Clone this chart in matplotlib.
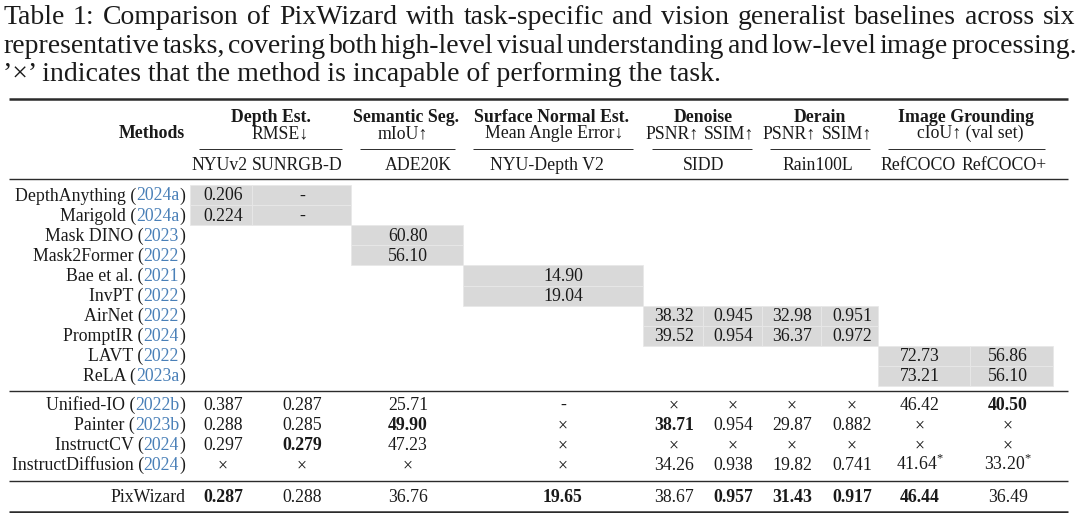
import matplotlib
matplotlib.use("Agg")
import matplotlib.pyplot as plt
from matplotlib.patches import Rectangle

plt.rcParams['font.family'] = ['Liberation Serif', 'DejaVu Serif']
plt.rcParams['mathtext.fontset'] = 'custom'
plt.rcParams['mathtext.rm'] = 'Liberation Serif'

# ---- table content ----
caption = [
    "Table 1: Comparison of PixWizard with task-specific and vision generalist baselines across six",
    "representative tasks, covering both high-level visual understanding and low-level image processing.",
    "’×’ indicates that the method is incapable of performing the task.",
]

groups = ["Depth Est.", "Semantic Seg.", "Surface Normal Est.", "Denoise", "Derain", "Image Grounding"]
metrics = ["RMSE↓", "mIoU↑", "Mean Angle Error↓", "PSNR↑", "SSIM↑", "PSNR↑", "SSIM↑", "cIoU↑ (val set)"]
datasets = ["NYUv2", "SUNRGB-D", "ADE20K", "NYU-Depth V2", "SIDD", "Rain100L", "RefCOCO", "RefCOCO+"]

specific_names = ["DepthAnything", "Marigold", "Mask DINO", "Mask2Former", "Bae et al.",
                  "InvPT", "AirNet", "PromptIR", "LAVT", "ReLA"]
specific_years = ["2024a", "2024a", "2023", "2022", "2021", "2022", "2022", "2024", "2022", "2023a"]
specific_vals = [
    ["0.206", "-", None, None, None, None, None, None, None, None],
    ["0.224", "-", None, None, None, None, None, None, None, None],
    [None, None, "60.80", None, None, None, None, None, None, None],
    [None, None, "56.10", None, None, None, None, None, None, None],
    [None, None, None, "14.90", None, None, None, None, None, None],
    [None, None, None, "19.04", None, None, None, None, None, None],
    [None, None, None, None, "38.32", "0.945", "32.98", "0.951", None, None],
    [None, None, None, None, "39.52", "0.954", "36.37", "0.972", None, None],
    [None, None, None, None, None, None, None, None, "72.73", "56.86"],
    [None, None, None, None, None, None, None, None, "73.21", "56.10"],
]

general_names = ["Unified-IO", "Painter", "InstructCV", "InstructDiffusion"]
general_years = ["2022b", "2023b", "2024", "2024"]
general_vals = [
    ["0.387", "0.287", "25.71", "-", "×", "×", "×", "×", "46.42", "40.50"],
    ["0.288", "0.285", "49.90", "×", "38.71", "0.954", "29.87", "0.882", "×", "×"],
    ["0.297", "0.279", "47.23", "×", "×", "×", "×", "×", "×", "×"],
    ["×", "×", "×", "×", "34.26", "0.938", "19.82", "0.741", "41.64$^{*}$", "33.20$^{*}$"],
]
general_bold = [[9], [2, 4], [1], []]

ours_name = "PixWizard"
ours_vals = ["0.287", "0.288", "36.76", "19.65", "38.67", "0.957", "31.43", "0.917", "46.44", "36.49"]
ours_bold = [0, 3, 5, 6, 7, 8]

# gray blocks: (first col, last col, first specific row, last specific row)
blocks = [(0, 1, 0, 1), (2, 2, 2, 3), (3, 3, 4, 5), (4, 7, 6, 7), (8, 9, 8, 9)]

# ---- layout ----
W, H = 1080, 513
col_x = [223, 302, 408, 563, 674, 733, 792, 852, 920, 1008]
cell_edges = [190, 252, 351, 463, 643, 703, 762, 821, 878, 970, 1053]
group_x = [271, 406, 551, 703, 820, 966]
metric_x = [280, 403, 554, 672, 729, 789, 847, 970]
dataset_x = [220, 297, 418, 547, 704, 818, 918, 1004]
cmid = [(199, 342), (360, 455), (473, 633), (652, 752), (770, 870), (888, 1045)]
name_right = 185
row_pitch = 20.1
spec_base0 = 200.5
gen_base = [410, 430, 450, 470]
ours_base = 502

ink = '#1a1a1a'
cite = '#4a80b8'
gray = '#d9d9d9'
fs = 12.8

fig = plt.figure(figsize=(W / 100, H / 100), dpi=100)
ax = fig.add_axes([0, 0, 1, 1])
ax.set_xlim(0, W)
ax.set_ylim(H, 0)
ax.axis('off')
r = fig.canvas.get_renderer()


def width(t):
    return t.get_window_extent(r).width


# caption, first two lines justified
probe = ax.text(0, 0, caption[0], fontsize=20)
cap_fs = min(20, 20 * 1070 / width(probe))
probe.remove()


def justify(line, x0, x1, yb):
    words = line.split()
    ts = [ax.text(0, yb, w, fontsize=cap_fs, color=ink, va='baseline') for w in words]
    ws = [width(t) for t in ts]
    gap = (x1 - x0 - sum(ws)) / (len(words) - 1)
    x = x0
    for t, w in zip(ts, ws):
        t.set_x(x)
        x += w + gap


justify(caption[0], 3, 1075, 24)
justify(caption[1], 3, 1077, 53)
ax.text(3, 81, caption[2], fontsize=cap_fs, color=ink, va='baseline')

# rules
ax.hlines([99, 512], 9, 1068, color='#2b2b2b', lw=1.8)
ax.hlines([179, 391, 481], 9, 1068, color='#2b2b2b', lw=1.0)
for a, b in cmid:
    ax.hlines(149, a, b, color='#2b2b2b', lw=0.7)

# headers
ax.text(name_right, 138, "Methods", fontsize=fs, fontweight='bold', ha='right', va='baseline', color=ink)
for g, x in zip(groups, group_x):
    ax.text(x, 122, g, fontsize=fs, fontweight='bold', ha='center', va='baseline', color=ink)
for m, x in zip(metrics, metric_x):
    ax.text(x, 138, m, fontsize=fs, ha='center', va='baseline', color=ink)
for d, x in zip(datasets, dataset_x):
    ax.text(x, 170, d, fontsize=fs, ha='center', va='baseline', color=ink)

# gray blocks
for c0, c1, r0, r1 in blocks:
    for rr in range(r0, r1 + 1):
        top = spec_base0 + row_pitch * rr - 15.5
        for c in range(c0, c1 + 1):
            ax.add_patch(Rectangle((cell_edges[c], top), cell_edges[c + 1] - cell_edges[c], row_pitch,
                                   facecolor=gray, edgecolor='#e8e8e8', lw=0.6, zorder=0))


def method(name, year, yb):
    t = ax.text(name_right, yb, ")", fontsize=fs, ha='right', va='baseline', color=ink)
    x = name_right - width(t)
    t = ax.text(x, yb, year, fontsize=fs, ha='right', va='baseline', color=cite)
    x -= width(t)
    ax.text(x, yb, name + " (", fontsize=fs, ha='right', va='baseline', color=ink)


def row(vals, bold, yb):
    for i, v in enumerate(vals):
        if v is None:
            continue
        ax.text(col_x[i], yb, v, fontsize=fs, ha='center', va='baseline', color=ink,
                fontweight='bold' if i in bold else 'normal')


for i, (n, y, v) in enumerate(zip(specific_names, specific_years, specific_vals)):
    yb = spec_base0 + row_pitch * i
    method(n, y, yb)
    row(v, [], yb)

for n, y, v, b, yb in zip(general_names, general_years, general_vals, general_bold, gen_base):
    method(n, y, yb)
    row(v, b, yb)

ax.text(name_right, ours_base, ours_name, fontsize=fs, ha='right', va='baseline', color=ink)
row(ours_vals, ours_bold, ours_base)

fig.savefig("out.png", dpi=100)
